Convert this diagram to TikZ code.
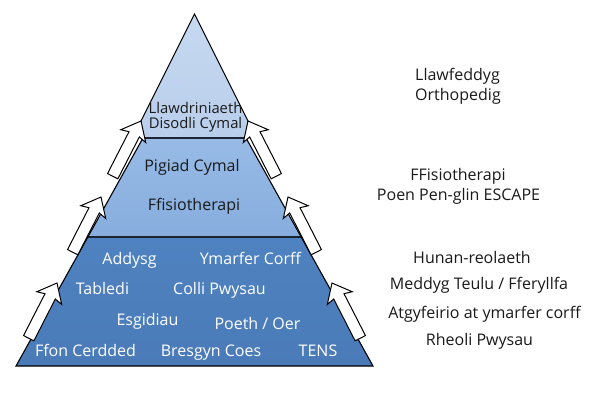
\documentclass[tikz,border=0pt]{standalone}
\usepackage{fontspec}
\setmainfont{Open Sans}
\usetikzlibrary{calc}
\definecolor{topc}{HTML}{C6D9F1}
\definecolor{topc2}{HTML}{B9CEEB}
\definecolor{midc}{HTML}{98BBE6}
\definecolor{midc2}{HTML}{86ADDE}
\definecolor{botc}{HTML}{4F82C0}
\definecolor{botc2}{HTML}{4A7BB8}
\definecolor{edgec}{HTML}{1A2433}
\definecolor{txtc}{HTML}{1A1A1A}
\tikzset{
  lbl/.style={anchor=base, inner sep=0pt, text=txtc, font=\fontsize{16}{19}\selectfont},
  wlbl/.style={lbl, text=white},
  toplbl/.style={anchor=base, inner sep=0pt, text=txtc, font=\fontsize{14.8}{17}\selectfont},
  blockarrow/.style={fill=white, draw=black, line width=1pt, line join=miter},
  sepline/.style={draw=edgec, line width=1.2pt}
}
\newcommand{\blockarr}[2]{%
  \coordinate (#1h) at ($(#2)!15pt!(#1)$);
  \coordinate (#1b) at ($(#2)!17pt!(#1)$);
  \draw[blockarrow] ($(#1)!5.8pt!90:(#2)$) -- ($(#1h)!5.8pt!90:(#2)$) -- ($(#1b)!14pt!90:(#2)$) -- (#2)
    -- ($(#1b)!14pt!-90:(#2)$) -- ($(#1h)!5.8pt!-90:(#2)$) -- ($(#1)!5.8pt!-90:(#2)$) -- cycle;}
\begin{document}
\begin{tikzpicture}[x=1pt,y=-1pt]
\useasboundingbox (0,0) rectangle (600,400);
\fill[white] (0,0) rectangle (600,400);
% tiers
\shade[top color=topc, bottom color=topc2] (194.5,14) -- (141,121) -- (143,138) -- (246,138) -- (248,121) -- cycle;
\shade[top color=midc, bottom color=midc2] (143,138) -- (246,138) -- (301,237) -- (88,237) -- cycle;
\shade[top color=botc, bottom color=botc2] (88,237) -- (301,237) -- (373,366) -- (16,366) -- cycle;
\draw[sepline] (143,138) -- (246,138);
\draw[sepline] (88,237) -- (301,237);
\draw[draw=black, line width=1.1pt, line join=miter] (194.5,14) -- (141,121) -- (143,138) -- (16,366) -- (373,366) -- (246,138) -- (248,121) -- cycle;
% arrows
\coordinate (L1) at (28.7,338.2); \coordinate (L1p) at (57,283);
\coordinate (L2) at (72.7,252.2); \coordinate (L2p) at (101,197);
\coordinate (L3) at (112.7,176.2); \coordinate (L3p) at (141,121);
\coordinate (R1) at (360.3,338.2); \coordinate (R1p) at (332,283);
\coordinate (R2) at (316.3,252.2); \coordinate (R2p) at (288,197);
\coordinate (R3) at (276.3,176.2); \coordinate (R3p) at (248,121);
\blockarr{L1}{L1p}
\blockarr{L2}{L2p}
\blockarr{L3}{L3p}
\blockarr{R1}{R1p}
\blockarr{R2}{R2p}
\blockarr{R3}{R3p}
% pyramid text
\node[toplbl] (t1) at (195.5,113) {Llawdriniaeth};
\node[toplbl] (t2) at (195.5,128) {Disodli Cymal};
\node[lbl] (m1) at (192,171) {Pigiad Cymal};
\node[lbl] (m2) at (194,210) {Ffisiotherapi};
\node[wlbl] (b1) at (129.5,264) {Addysg};
\node[wlbl] (b2) at (250.5,264) {Ymarfer Corff};
\node[wlbl] (b3) at (102.5,294) {Tabledi};
\node[wlbl] (b4) at (219.5,294) {Colli Pwysau};
\node[wlbl] (b5) at (147.5,325) {Esgidiau};
\node[wlbl] (b6) at (257.5,329) {Poeth / Oer};
\node[wlbl] (b7) at (85.5,356) {Ffon Cerdded};
\node[wlbl] (b8) at (211,356) {Bresgyn Coes};
\node[wlbl] (b9) at (318,356) {TENS};
% right text
\node[lbl] (r1) at (457.5,80) {Llawfeddyg};
\node[lbl] (r2) at (458,100) {Orthopedig};
\node[lbl] (r3) at (458,180) {FFisiotherapi};
\node[lbl] (r4) at (458.5,200) {Poen Pen-glin ESCAPE};
\node[lbl] (r5) at (472,263) {Hunan-reolaeth};
\node[lbl] (r6) at (479,289) {Meddyg Teulu / Fferyllfa};
\node[lbl] (r7) at (484.5,318) {Atgyfeirio at ymarfer corff};
\node[lbl] (r8) at (479.5,345) {Rheoli Pwysau};
\end{tikzpicture}
\end{document}
